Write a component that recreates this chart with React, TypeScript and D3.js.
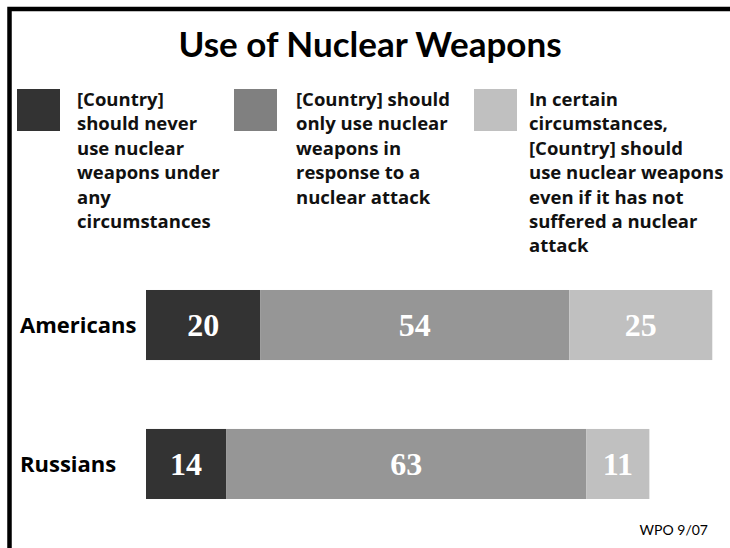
import React from "react";
import * as d3 from "d3";

const categories = ["Americans", "Russians"];
const seriesKeys = ["never", "onlyResponse", "certain"];
const neverValues = [20, 14];
const onlyResponseValues = [54, 63];
const certainValues = [25, 11];
const legendLines = [
  ["[Country]", "should never", "use nuclear", "weapons under", "any", "circumstances"],
  ["[Country] should", "only use nuclear", "weapons in", "response to a", "nuclear attack"],
  ["In certain", "circumstances,", "[Country] should", "use nuclear weapons", "even if it has not", "suffered a nuclear", "attack"],
];
const title = "Use of Nuclear Weapons";
const source = "WPO 9/07";

const barColors = ["#333333", "#969696", "#c0c0c0"];
const legendColors = ["#333333", "#808080", "#c0c0c0"];
const sans = "Lato, 'Open Sans', sans-serif";
const sans2 = "'Open Sans', Lato, sans-serif";
const serif = "'Liberation Serif', 'DejaVu Serif', serif";

export default function App() {
  const W = 730, H = 548;
  const rows = categories.map((c, i) => ({
    cat: c,
    never: neverValues[i],
    onlyResponse: onlyResponseValues[i],
    certain: certainValues[i],
  }));
  const stacked = d3.stack<any>().keys(seriesKeys)(rows);
  const x = d3.scaleLinear().domain([0, 100]).range([146, 718]);
  const y = d3.scaleBand().domain(categories).range([255.25, 533.75]).paddingInner(0.496).paddingOuter(0.25);

  const legendX = [17, 234, 474];
  const legendTextX = [77, 296, 529];

  return (
    <svg width={W} height={H} style={{ position: "absolute", left: 0, top: 0, background: "#fff" }}>
      <rect x={0} y={0} width={W} height={H} fill="#fff" />
      <path d={`M9.5,${H} L9.5,9 L${W},9`} fill="none" stroke="#000" strokeWidth={4.5} />
      <text x={370} y={57} textAnchor="middle" fontFamily={sans} fontWeight={700} fontSize={35} fill="#000">
        {title}
      </text>
      {legendLines.map((lines, i) => (
        <g key={i}>
          <rect x={legendX[i]} y={89} width={43} height={42} fill={legendColors[i]} />
          <text fontFamily={sans2} fontWeight={700} fontSize={18.5} fill="#111">
            {lines.map((l, j) => (
              <tspan key={j} x={legendTextX[i]} y={106 + j * 24.4}>
                {l}
              </tspan>
            ))}
          </text>
        </g>
      ))}
      {stacked.map((s, si) => (
        <g key={si}>
          {s.map((d: any, di: number) => {
            const x0 = x(d[0]), x1 = x(d[1]);
            const yy = y(d.data.cat)!;
            return (
              <g key={di}>
                <rect x={x0} y={yy} width={x1 - x0} height={y.bandwidth()} fill={barColors[si]} />
                <text
                  x={(x0 + x1) / 2}
                  y={yy + y.bandwidth() / 2}
                  dy="0.35em"
                  textAnchor="middle"
                  fontFamily={serif}
                  fontWeight={700}
                  fontSize={32}
                  fill="#fff"
                >
                  {d[1] - d[0]}
                </text>
              </g>
            );
          })}
        </g>
      ))}
      {categories.map((c) => (
        <text
          key={c}
          x={20}
          y={y(c)! + y.bandwidth() / 2}
          dy="0.35em"
          fontFamily={sans2}
          fontWeight={700}
          fontSize={22}
          fill="#000"
        >
          {c}
        </text>
      ))}
      <text x={708} y={535} textAnchor="end" fontFamily={sans} fontSize={14} fill="#000">
        {source}
      </text>
    </svg>
  );
}
